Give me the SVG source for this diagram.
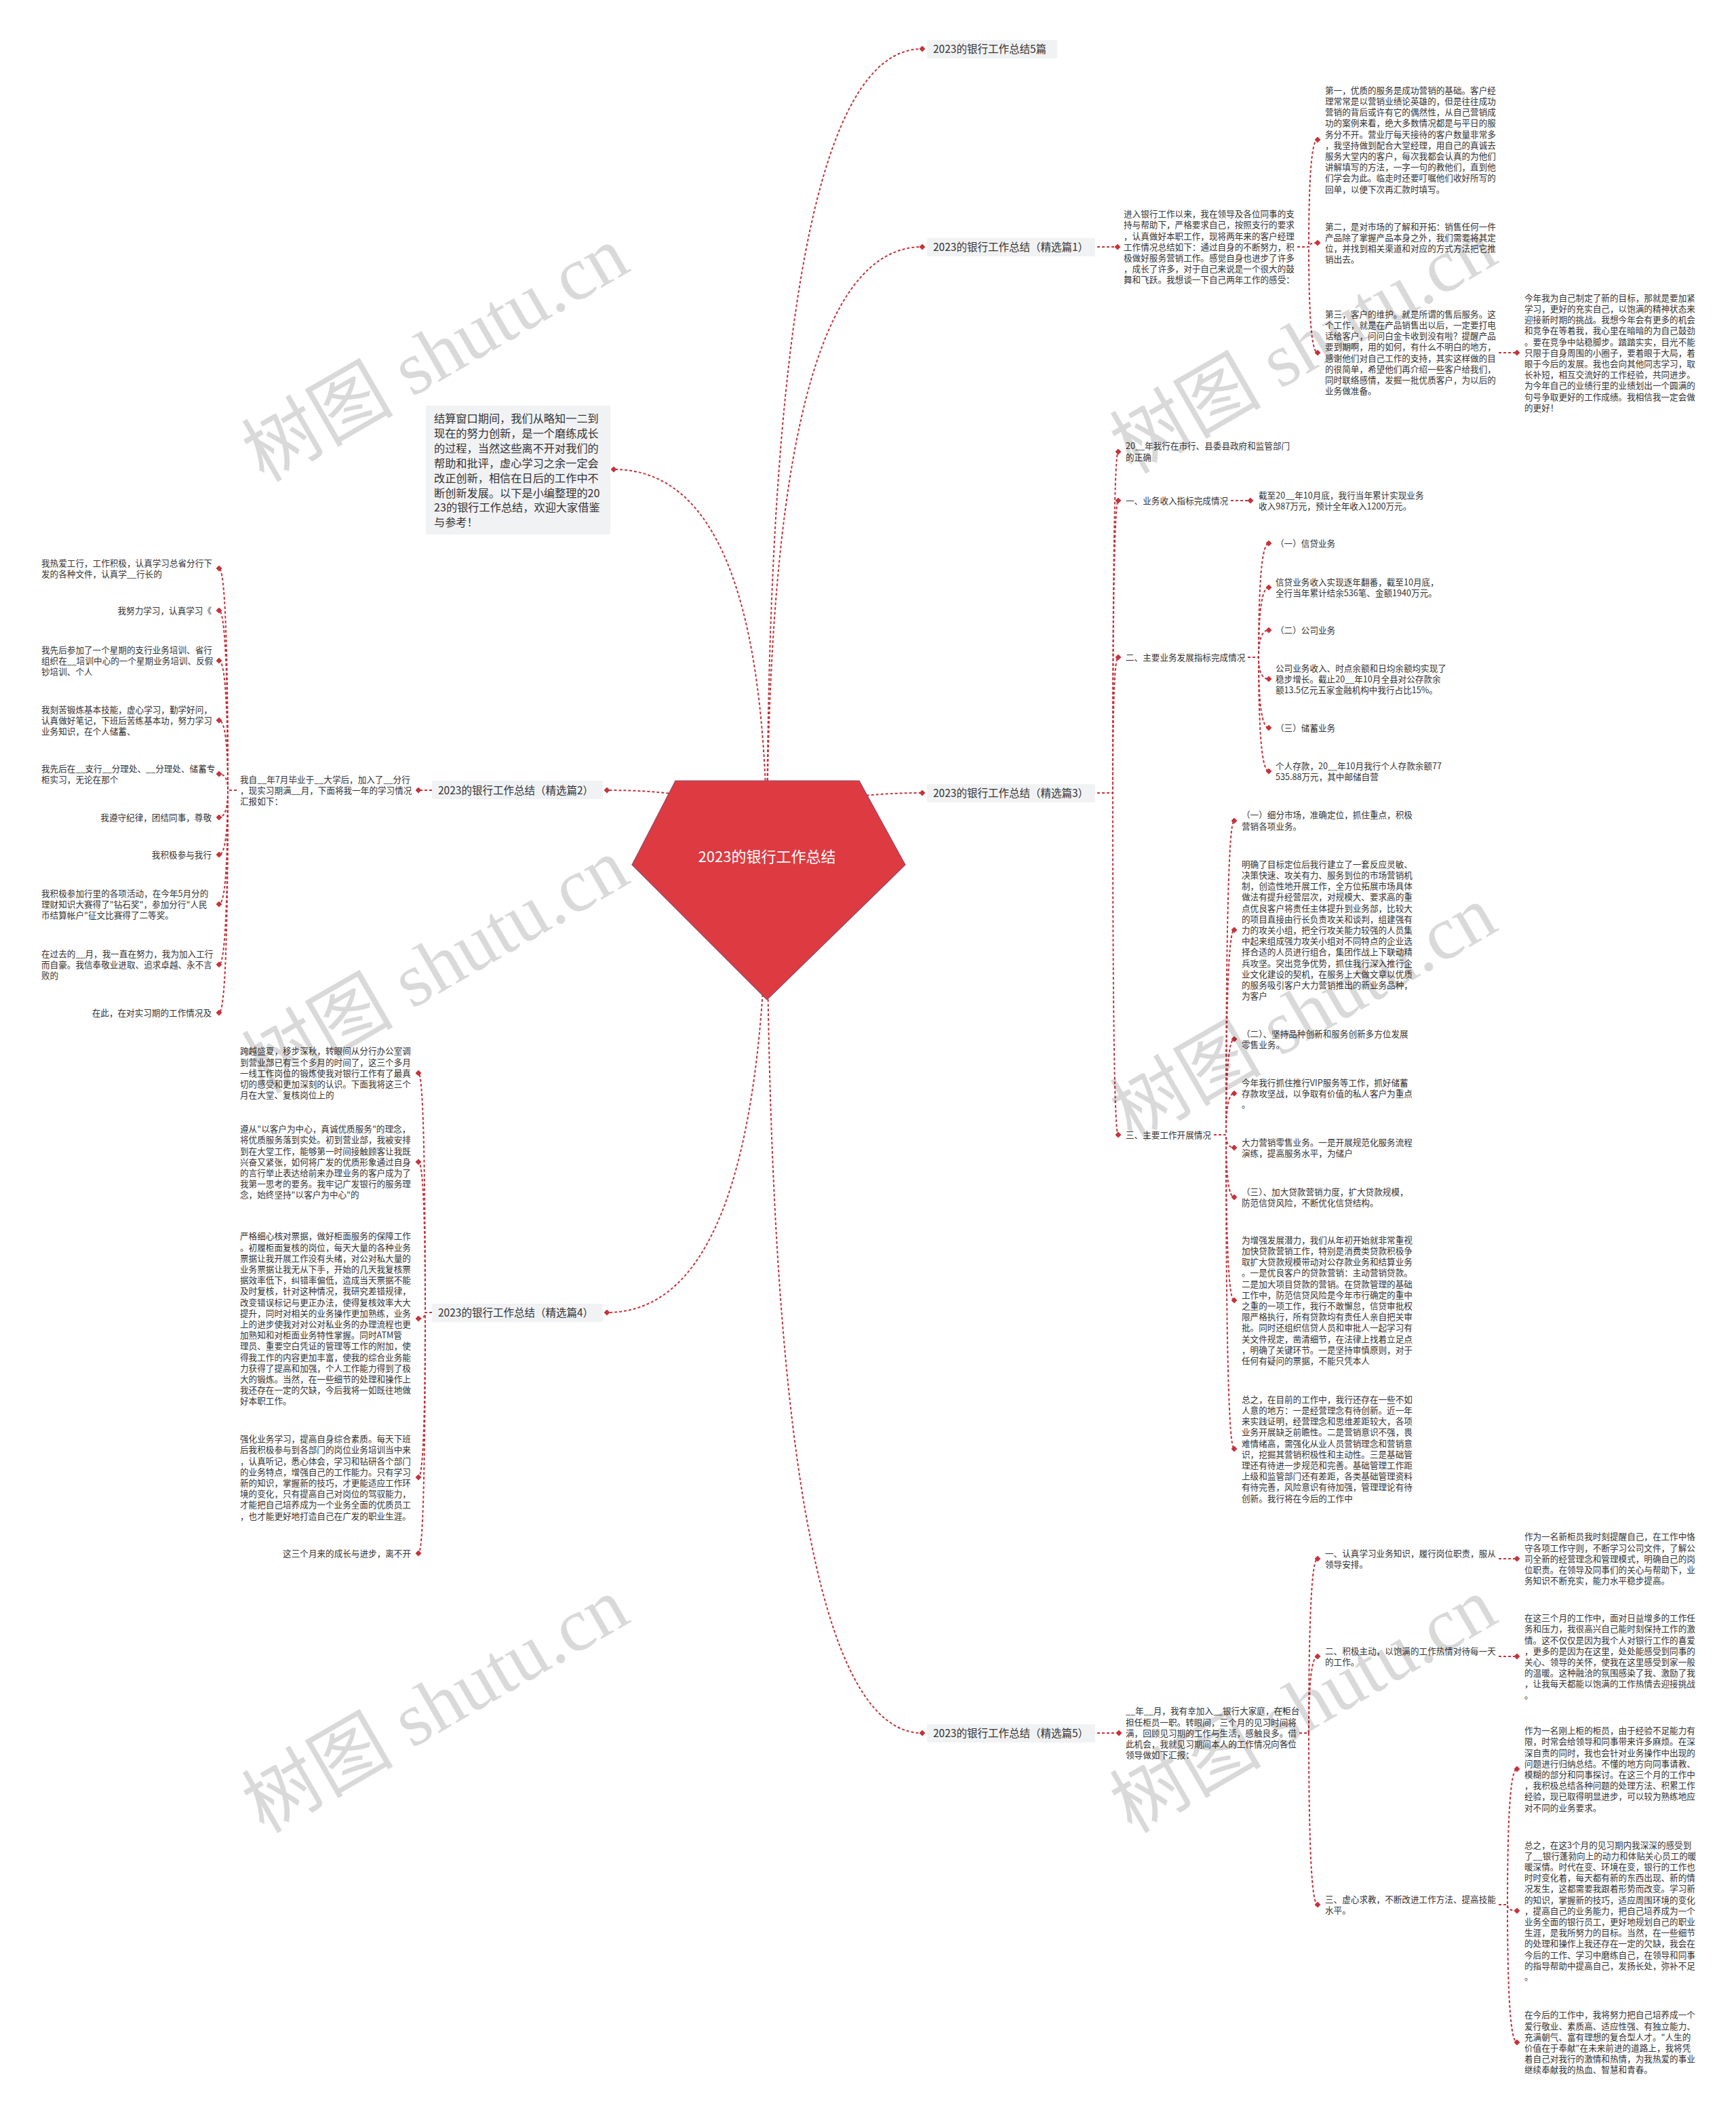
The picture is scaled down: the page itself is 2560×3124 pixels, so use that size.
<svg xmlns="http://www.w3.org/2000/svg" width="2560" height="3124" viewBox="0 0 2560 3124">
<defs>
<style>
.t{font-family:"Noto Sans CJK SC","Microsoft YaHei",sans-serif;font-size:12.6px;fill:#333}
.l1{font-family:"Noto Sans CJK SC","Microsoft YaHei",sans-serif;font-size:15.5px;fill:#333}
.bx{fill:#f1f2f4}
.c{stroke:#c4343c;stroke-width:2;stroke-dasharray:4 3;fill:none;marker-end:url(#dm)}
.wm{font-family:"Liberation Serif","Noto Sans CJK SC",serif;font-size:112px;fill:#000;fill-opacity:0.15}
</style>
<marker id="dm" viewBox="0 0 10 10" refX="5" refY="5" markerWidth="9" markerHeight="9" markerUnits="userSpaceOnUse"><path d="M5 0L10 5L5 10L0 5Z" fill="#c4343c"/></marker>
</defs>
<rect width="2560" height="3124" fill="#fff"/>
<g id="connectors">
<path class="c" d="M1131 1263Q1131 72 1360 72"/>
<path class="c" d="M1131 1263Q1131 364 1360 364"/>
<path class="c" d="M1131 1263Q1131 692 905 692"/>
<path class="c" d="M1131 1263Q1131 1169 1360 1169"/>
<path class="c" d="M1131 1263Q1131 1165 895 1165"/>
<path class="c" d="M1131 1263Q1131 1935 895 1935"/>
<path class="c" d="M1131 1263Q1131 2555 1360 2555"/>
<path class="c" d="M1618 364H1648"/>
<path class="c" d="M1913 364H1930Q1930 206 1943 206"/>
<path class="c" d="M1913 364H1930Q1930 358 1943 358"/>
<path class="c" d="M1913 364H1930Q1930 520 1943 520"/>
<path class="c" d="M2210 520H2237"/>
<path class="c" d="M1618 1169H1641Q1641 666 1649 666"/>
<path class="c" d="M1618 1169H1641Q1641 738 1649 738"/>
<path class="c" d="M1618 1169H1641Q1641 969 1649 969"/>
<path class="c" d="M1618 1169H1641Q1641 1673 1649 1673"/>
<path class="c" d="M1815 738H1844"/>
<path class="c" d="M1840 969H1856Q1856 801 1871 801"/>
<path class="c" d="M1840 969H1856Q1856 866 1871 866"/>
<path class="c" d="M1840 969H1856Q1856 929 1871 929"/>
<path class="c" d="M1840 969H1856Q1856 1001 1871 1001"/>
<path class="c" d="M1840 969H1856Q1856 1073 1871 1073"/>
<path class="c" d="M1840 969H1856Q1856 1137 1871 1137"/>
<path class="c" d="M1790 1673H1808Q1808 1210 1820 1210"/>
<path class="c" d="M1790 1673H1808Q1808 1371 1820 1371"/>
<path class="c" d="M1790 1673H1808Q1808 1532 1820 1532"/>
<path class="c" d="M1790 1673H1808Q1808 1612 1820 1612"/>
<path class="c" d="M1790 1673H1808Q1808 1692 1820 1692"/>
<path class="c" d="M1790 1673H1808Q1808 1765 1820 1765"/>
<path class="c" d="M1790 1673H1808Q1808 1917 1820 1917"/>
<path class="c" d="M1790 1673H1808Q1808 2136 1820 2136"/>
<path class="c" d="M637 1165H617"/>
<path class="c" d="M349 1165H336Q336 838 323 838"/>
<path class="c" d="M349 1165H336Q336 900 323 900"/>
<path class="c" d="M349 1165H336Q336 974 323 974"/>
<path class="c" d="M349 1165H336Q336 1062 323 1062"/>
<path class="c" d="M349 1165H336Q336 1141 323 1141"/>
<path class="c" d="M349 1165H336Q336 1205 323 1205"/>
<path class="c" d="M349 1165H336Q336 1260 323 1260"/>
<path class="c" d="M349 1165H336Q336 1333 323 1333"/>
<path class="c" d="M349 1165H336Q336 1422 323 1422"/>
<path class="c" d="M349 1165H336Q336 1493 323 1493"/>
<path class="c" d="M637 1935H627Q627 1582 617 1582"/>
<path class="c" d="M637 1935H627Q627 1713 617 1713"/>
<path class="c" d="M637 1935H627Q627 1944 617 1944"/>
<path class="c" d="M637 1935H627Q627 2178 617 2178"/>
<path class="c" d="M637 1935H627Q627 2290 617 2290"/>
<path class="c" d="M1618 2555H1650"/>
<path class="c" d="M1916 2555H1930Q1930 2298 1943 2298"/>
<path class="c" d="M1916 2555H1930Q1930 2442 1943 2442"/>
<path class="c" d="M1916 2555H1930Q1930 2808 1943 2808"/>
<path class="c" d="M2210 2298H2237"/>
<path class="c" d="M2210 2442H2237"/>
<path class="c" d="M2210 2808H2223Q2223 2608 2237 2608"/>
<path class="c" d="M2210 2808H2223Q2223 2817 2237 2817"/>
<path class="c" d="M2210 2808H2223Q2223 3011 2237 3011"/>
</g>
<g id="root">
<polygon points="996,1151 1267,1151 1335,1275 1131,1474 932,1275" fill="#dd3b41" stroke="#8e4a6a" stroke-width="1.2"/>
<text x="1131" y="1271" text-anchor="middle" font-family="Noto Sans CJK SC, sans-serif" font-size="22" fill="#fff">2023的银行工作总结</text>
</g>
<g id="n-5pian"><rect class="bx" x="1367" y="59" width="192" height="27" rx="2"/><text class="l1" x="1376" y="78">2023的银行工作总结5篇</text></g>
<g id="n-p1"><rect class="bx" x="1367" y="351" width="248" height="27" rx="2"/><text class="l1" x="1376" y="370">2023的银行工作总结（精选篇1）</text></g>
<g id="n-p3"><rect class="bx" x="1367" y="1156" width="248" height="27" rx="2"/><text class="l1" x="1376" y="1175">2023的银行工作总结（精选篇3）</text></g>
<g id="n-p5"><rect class="bx" x="1367" y="2542" width="248" height="27" rx="2"/><text class="l1" x="1376" y="2561">2023的银行工作总结（精选篇5）</text></g>
<g id="n-p2"><rect class="bx" x="637" y="1151" width="252" height="27" rx="2"/><text class="l1" x="646" y="1171">2023的银行工作总结（精选篇2）</text></g>
<g id="n-p4"><rect class="bx" x="637" y="1922" width="252" height="27" rx="2"/><text class="l1" x="646" y="1941">2023的银行工作总结（精选篇4）</text></g>
<g id="n-summary"><rect class="bx" x="628" y="598" width="272" height="190" rx="2"/>
<text x="640" y="623" font-family="Noto Sans CJK SC, sans-serif" font-size="16.2" fill="#333"><tspan x="640">结算窗口期间，我们从略知一二到</tspan><tspan x="640" dy="21.9">现在的努力创新，是一个磨练成长</tspan><tspan x="640" dy="21.9">的过程，当然这些离不开对我们的</tspan><tspan x="640" dy="21.9">帮助和批评，虚心学习之余一定会</tspan><tspan x="640" dy="21.9">改正创新，相信在日后的工作中不</tspan><tspan x="640" dy="21.9">断创新发展。以下是小编整理的20</tspan><tspan x="640" dy="21.9">23的银行工作总结，欢迎大家借鉴</tspan><tspan x="640" dy="21.9">与参考！</tspan></text></g>
<g id="p1-intro"><text class="t" x="1657" y="320.2"><tspan x="1657">进入银行工作以来，我在领导及各位同事的支</tspan><tspan x="1657" dy="16.2">持与帮助下，严格要求自己，按照支行的要求</tspan><tspan x="1657" dy="16.2">，认真做好本职工作，现将两年来的客户经理</tspan><tspan x="1657" dy="16.2">工作情况总结如下：通过自身的不断努力，积</tspan><tspan x="1657" dy="16.2">极做好服务营销工作。感觉自身也进步了许多</tspan><tspan x="1657" dy="16.2">，成长了许多，对于自己来说是一个很大的鼓</tspan><tspan x="1657" dy="16.2">舞和飞跃。我想谈一下自己两年工作的感受：</tspan></text></g>
<g id="p1-a"><text class="t" x="1954" y="137.8"><tspan x="1954">第一，优质的服务是成功营销的基础。客户经</tspan><tspan x="1954" dy="16.2">理常常是以营销业绩论英雄的，但是往往成功</tspan><tspan x="1954" dy="16.2">营销的背后或许有它的偶然性，从自己营销成</tspan><tspan x="1954" dy="16.2">功的案例来看，绝大多数情况都是与平日的服</tspan><tspan x="1954" dy="16.2">务分不开。营业厅每天接待的客户数量非常多</tspan><tspan x="1954" dy="16.2">，我坚持做到配合大堂经理，用自己的真诚去</tspan><tspan x="1954" dy="16.2">服务大堂内的客户，每次我都会认真的为他们</tspan><tspan x="1954" dy="16.2">讲解填写的方法，一字一句的教他们，直到他</tspan><tspan x="1954" dy="16.2">们学会为此。临走时还要叮嘱他们收好所写的</tspan><tspan x="1954" dy="16.2">回单，以便下次再汇款时填写。</tspan></text></g>
<g id="p1-b"><text class="t" x="1954" y="338.8"><tspan x="1954">第二，是对市场的了解和开拓：销售任何一件</tspan><tspan x="1954" dy="16.2">产品除了掌握产品本身之外，我们需要将其定</tspan><tspan x="1954" dy="16.2">位，并找到相关渠道和对应的方式方法把它推</tspan><tspan x="1954" dy="16.2">销出去。</tspan></text></g>
<g id="p1-c"><text class="t" x="1954" y="467.8"><tspan x="1954">第三，客户的维护。就是所谓的售后服务。这</tspan><tspan x="1954" dy="16.2">个工作，就是在产品销售出以后，一定要打电</tspan><tspan x="1954" dy="16.2">话给客户，问问白金卡收到没有啦？提醒产品</tspan><tspan x="1954" dy="16.2">要到期啊，用的如何，有什么不明白的地方，</tspan><tspan x="1954" dy="16.2">感谢他们对自己工作的支持，其实这样做的目</tspan><tspan x="1954" dy="16.2">的很简单，希望他们再介绍一些客户给我们，</tspan><tspan x="1954" dy="16.2">同时联络感情，发掘一批优质客户，为以后的</tspan><tspan x="1954" dy="16.2">业务做准备。</tspan></text></g>
<g id="p1-c1"><text class="t" x="2248" y="443.8"><tspan x="2248">今年我为自己制定了新的目标，那就是要加紧</tspan><tspan x="2248" dy="16.2">学习，更好的充实自己，以饱满的精神状态来</tspan><tspan x="2248" dy="16.2">迎接新时期的挑战。我想今年会有更多的机会</tspan><tspan x="2248" dy="16.2">和竞争在等着我，我心里在暗暗的为自己鼓劲</tspan><tspan x="2248" dy="16.2">。要在竞争中站稳脚步。踏踏实实，目光不能</tspan><tspan x="2248" dy="16.2">只限于自身周围的小圈子，要着眼于大局，着</tspan><tspan x="2248" dy="16.2">眼于今后的发展。我也会向其他同志学习，取</tspan><tspan x="2248" dy="16.2">长补短，相互交流好的工作经验，共同进步。</tspan><tspan x="2248" dy="16.2">为今年自己的业绩行里的业绩划出一个圆满的</tspan><tspan x="2248" dy="16.2">句号争取更好的工作成绩。我相信我一定会做</tspan><tspan x="2248" dy="16.2">的更好！</tspan></text></g>
<g id="p3-a"><text class="t" x="1660" y="662.3"><tspan x="1660">20__年我行在市行、县委县政府和监管部门</tspan><tspan x="1660" dy="16.2">的正确</tspan></text></g>
<g id="p3-b"><text class="t" x="1660" y="742.8">一、业务收入指标完成情况</text></g>
<g id="p3-b1"><text class="t" x="1856" y="734.8"><tspan x="1856">截至20__年10月底，我行当年累计实现业务</tspan><tspan x="1856" dy="16.2">收入987万元，预计全年收入1200万元。</tspan></text></g>
<g id="p3-c"><text class="t" x="1660" y="973.8">二、主要业务发展指标完成情况</text></g>
<g id="p3-c1"><text class="t" x="1881" y="805.8">（一）信贷业务</text></g>
<g id="p3-c2"><text class="t" x="1881" y="862.8"><tspan x="1881">信贷业务收入实现逐年翻番，截至10月底，</tspan><tspan x="1881" dy="16.2">全行当年累计结余536笔、金额1940万元。</tspan></text></g>
<g id="p3-c3"><text class="t" x="1881" y="933.8">（二）公司业务</text></g>
<g id="p3-c4"><text class="t" x="1881" y="989.8"><tspan x="1881">公司业务收入、时点余额和日均余额均实现了</tspan><tspan x="1881" dy="16.2">稳步增长。截止20__年10月全县对公存款余</tspan><tspan x="1881" dy="16.2">额13.5亿元五家金融机构中我行占比15%。</tspan></text></g>
<g id="p3-c5"><text class="t" x="1881" y="1077.8">（三）储蓄业务</text></g>
<g id="p3-c6"><text class="t" x="1881" y="1133.8"><tspan x="1881">个人存款，20__年10月我行个人存款余额77</tspan><tspan x="1881" dy="16.2">535.88万元，其中邮储自营</tspan></text></g>
<g id="p3-d"><text class="t" x="1660" y="1677.8">三、主要工作开展情况</text></g>
<g id="p3-d1"><text class="t" x="1831" y="1206.3"><tspan x="1831">（一）细分市场，准确定位，抓住重点，积极</tspan><tspan x="1831" dy="16.2">营销各项业务。</tspan></text></g>
<g id="p3-d2"><text class="t" x="1831" y="1278.8"><tspan x="1831">明确了目标定位后我行建立了一套反应灵敏、</tspan><tspan x="1831" dy="16.2">决策快速、攻关有力、服务到位的市场营销机</tspan><tspan x="1831" dy="16.2">制，创造性地开展工作，全方位拓展市场具体</tspan><tspan x="1831" dy="16.2">做法有提升经营层次，对规模大、要求高的重</tspan><tspan x="1831" dy="16.2">点优良客户将责任主体提升到业务部，比较大</tspan><tspan x="1831" dy="16.2">的项目直接由行长负责攻关和谈判，组建强有</tspan><tspan x="1831" dy="16.2">力的攻关小组，把全行攻关能力较强的人员集</tspan><tspan x="1831" dy="16.2">中起来组成强力攻关小组对不同特点的企业选</tspan><tspan x="1831" dy="16.2">择合适的人员进行组合，集团作战上下联动精</tspan><tspan x="1831" dy="16.2">兵攻坚。突出竞争优势，抓住我行深入推行企</tspan><tspan x="1831" dy="16.2">业文化建设的契机，在服务上大做文章以优质</tspan><tspan x="1831" dy="16.2">的服务吸引客户大力营销推出的新业务品种，</tspan><tspan x="1831" dy="16.2">为客户</tspan></text></g>
<g id="p3-d3"><text class="t" x="1831" y="1528.8"><tspan x="1831">（二）、坚持品种创新和服务创新多方位发展</tspan><tspan x="1831" dy="16.2">零售业务。</tspan></text></g>
<g id="p3-d4"><text class="t" x="1831" y="1600.8"><tspan x="1831">今年我行抓住推行VIP服务等工作，抓好储蓄</tspan><tspan x="1831" dy="16.2">存款攻坚战，以争取有价值的私人客户为重点</tspan><tspan x="1831" dy="16.2">。</tspan></text></g>
<g id="p3-d5"><text class="t" x="1831" y="1688.8"><tspan x="1831">大力营销零售业务。一是开展规范化服务流程</tspan><tspan x="1831" dy="16.2">演练，提高服务水平，为储户</tspan></text></g>
<g id="p3-d6"><text class="t" x="1831" y="1761.8"><tspan x="1831">（三）、加大贷款营销力度，扩大贷款规模，</tspan><tspan x="1831" dy="16.2">防范信贷风险，不断优化信贷结构。</tspan></text></g>
<g id="p3-d7"><text class="t" x="1831" y="1832.8"><tspan x="1831">为增强发展潜力，我们从年初开始就非常重视</tspan><tspan x="1831" dy="16.2">加快贷款营销工作，特别是消费类贷款积极争</tspan><tspan x="1831" dy="16.2">取扩大贷款规模带动对公存款业务和结算业务</tspan><tspan x="1831" dy="16.2">。一是优良客户的贷款营销：主动营销贷款。</tspan><tspan x="1831" dy="16.2">二是加大项目贷款的营销。在贷款管理的基础</tspan><tspan x="1831" dy="16.2">工作中，防范信贷风险是今年市行确定的重中</tspan><tspan x="1831" dy="16.2">之重的一项工作，我行不敢懈怠，信贷审批权</tspan><tspan x="1831" dy="16.2">限严格执行，所有贷款均有责任人亲自把关审</tspan><tspan x="1831" dy="16.2">批。同时还组织信贷人员和审批人一起学习有</tspan><tspan x="1831" dy="16.2">关文件规定，凿清细节，在法律上找着立足点</tspan><tspan x="1831" dy="16.2">，明确了关键环节。一是坚持审慎原则，对于</tspan><tspan x="1831" dy="16.2">任何有疑问的票据，不能只凭本人</tspan></text></g>
<g id="p3-d8"><text class="t" x="1831" y="2067.8"><tspan x="1831">总之，在目前的工作中，我行还存在一些不如</tspan><tspan x="1831" dy="16.2">人意的地方：一是经营理念有待创新。近一年</tspan><tspan x="1831" dy="16.2">来实践证明，经营理念和思维差距较大，各项</tspan><tspan x="1831" dy="16.2">业务开展缺乏前瞻性。二是营销意识不强，畏</tspan><tspan x="1831" dy="16.2">难情绪高，需强化从业人员营销理念和营销意</tspan><tspan x="1831" dy="16.2">识，挖掘其营销积极性和主动性。三是基础管</tspan><tspan x="1831" dy="16.2">理还有待进一步规范和完善。基础管理工作距</tspan><tspan x="1831" dy="16.2">上级和监管部门还有差距，各类基础管理资料</tspan><tspan x="1831" dy="16.2">有待完善，风险意识有待加强，管理理论有待</tspan><tspan x="1831" dy="16.2">创新。我行将在今后的工作中</tspan></text></g>
<g id="p2-intro"><text class="t" x="354" y="1153.8"><tspan x="354">我自__年7月毕业于__大学后，加入了__分行</tspan><tspan x="354" dy="16.2">，现实习期满__月，下面将我一年的学习情况</tspan><tspan x="354" dy="16.2">汇报如下：</tspan></text></g>
<g id="p2-1"><text class="t" x="61" y="834.8"><tspan x="61">我热爱工行，工作积极，认真学习总省分行下</tspan><tspan x="61" dy="16.2">发的各种文件，认真学__行长的</tspan></text></g>
<g id="p2-2"><text class="t" x="312" y="904.8" text-anchor="end">我努力学习，认真学习《</text></g>
<g id="p2-3"><text class="t" x="61" y="962.6"><tspan x="61">我先后参加了一个星期的支行业务培训、省行</tspan><tspan x="61" dy="16.2">组织在__培训中心的一个星期业务培训、反假</tspan><tspan x="61" dy="16.2">钞培训、个人</tspan></text></g>
<g id="p2-4"><text class="t" x="61" y="1050.6"><tspan x="61">我刻苦锻炼基本技能，虚心学习，勤学好问，</tspan><tspan x="61" dy="16.2">认真做好笔记，下班后苦练基本功，努力学习</tspan><tspan x="61" dy="16.2">业务知识，在个人储蓄、</tspan></text></g>
<g id="p2-5"><text class="t" x="61" y="1137.8"><tspan x="61">我先后在__支行__分理处、__分理处、储蓄专</tspan><tspan x="61" dy="16.2">柜实习，无论在那个</tspan></text></g>
<g id="p2-6"><text class="t" x="312" y="1209.8" text-anchor="end">我遵守纪律，团结同事，尊敬</text></g>
<g id="p2-7"><text class="t" x="312" y="1264.8" text-anchor="end">我积极参与我行</text></g>
<g id="p2-8"><text class="t" x="61" y="1321.8"><tspan x="61">我积极参加行里的各项活动，在今年5月分的</tspan><tspan x="61" dy="16.2">理财知识大赛得了"钻石奖"，参加分行"人民</tspan><tspan x="61" dy="16.2">币结算帐户"征文比赛得了二等奖。</tspan></text></g>
<g id="p2-9"><text class="t" x="61" y="1410.8"><tspan x="61">在过去的__月，我一直在努力，我为加入工行</tspan><tspan x="61" dy="16.2">而自豪。我信奉敬业进取、追求卓越、永不言</tspan><tspan x="61" dy="16.2">败的</tspan></text></g>
<g id="p2-10"><text class="t" x="312" y="1497.8" text-anchor="end">在此，在对实习期的工作情况及</text></g>
<g id="p4-1"><text class="t" x="354" y="1554.4"><tspan x="354">跨越盛夏，移步深秋，转眼间从分行办公室调</tspan><tspan x="354" dy="16.2">到营业部已有三个多月的时间了，这三个多月</tspan><tspan x="354" dy="16.2">一线工作岗位的锻炼使我对银行工作有了最真</tspan><tspan x="354" dy="16.2">切的感受和更加深刻的认识。下面我将这三个</tspan><tspan x="354" dy="16.2">月在大堂、复核岗位上的</tspan></text></g>
<g id="p4-2"><text class="t" x="354" y="1669.2"><tspan x="354">遵从"以客户为中心，真诚优质服务"的理念，</tspan><tspan x="354" dy="16.2">将优质服务落到实处。初到营业部，我被安排</tspan><tspan x="354" dy="16.2">到在大堂工作，能够第一时间接触顾客让我既</tspan><tspan x="354" dy="16.2">兴奋又紧张，如何将广发的优质形象通过自身</tspan><tspan x="354" dy="16.2">的言行举止表达给前来办理业务的客户成为了</tspan><tspan x="354" dy="16.2">我第一思考的要务。我牢记广发银行的服务理</tspan><tspan x="354" dy="16.2">念，始终坚持"以客户为中心"的</tspan></text></g>
<g id="p4-3"><text class="t" x="354" y="1827.3"><tspan x="354">严格细心核对票据，做好柜面服务的保障工作</tspan><tspan x="354" dy="16.2">。初履柜面复核的岗位，每天大量的各种业务</tspan><tspan x="354" dy="16.2">票据让我开展工作没有头绪，对公对私大量的</tspan><tspan x="354" dy="16.2">业务票据让我无从下手，开始的几天我复核票</tspan><tspan x="354" dy="16.2">据效率低下，纠错率偏低，造成当天票据不能</tspan><tspan x="354" dy="16.2">及时复核，针对这种情况，我研究差错规律，</tspan><tspan x="354" dy="16.2">改变错误标记与更正办法，使得复核效率大大</tspan><tspan x="354" dy="16.2">提升，同时对相关的业务操作更加熟练，业务</tspan><tspan x="354" dy="16.2">上的进步使我对对公对私业务的办理流程也更</tspan><tspan x="354" dy="16.2">加熟知和对柜面业务特性掌握。同时ATM管</tspan><tspan x="354" dy="16.2">理员、重要空白凭证的管理等工作的附加，使</tspan><tspan x="354" dy="16.2">得我工作的内容更加丰富，使我的综合业务能</tspan><tspan x="354" dy="16.2">力获得了提高和加强，个人工作能力得到了极</tspan><tspan x="354" dy="16.2">大的锻炼。当然，在一些细节的处理和操作上</tspan><tspan x="354" dy="16.2">我还存在一定的欠缺，今后我将一如既往地做</tspan><tspan x="354" dy="16.2">好本职工作。</tspan></text></g>
<g id="p4-4"><text class="t" x="354" y="2126.1"><tspan x="354">强化业务学习，提高自身综合素质。每天下班</tspan><tspan x="354" dy="16.2">后我积极参与到各部门的岗位业务培训当中来</tspan><tspan x="354" dy="16.2">，认真听记，悉心体会，学习和钻研各个部门</tspan><tspan x="354" dy="16.2">的业务特点，增强自己的工作能力。只有学习</tspan><tspan x="354" dy="16.2">新的知识，掌握新的技巧，才更能适应工作环</tspan><tspan x="354" dy="16.2">境的变化，只有提高自己对岗位的驾驭能力，</tspan><tspan x="354" dy="16.2">才能把自己培养成为一个业务全面的优质员工</tspan><tspan x="354" dy="16.2">，也才能更好地打造自己在广发的职业生涯。</tspan></text></g>
<g id="p4-5"><text class="t" x="606" y="2294.8" text-anchor="end">这三个月来的成长与进步，离不开</text></g>
<g id="p5-intro"><text class="t" x="1660" y="2527.4"><tspan x="1660">__年__月，我有幸加入__银行大家庭，在柜台</tspan><tspan x="1660" dy="16.2">担任柜员一职。转眼间，三个月的见习时间将</tspan><tspan x="1660" dy="16.2">满，回顾见习期的工作与生活，感触良多。借</tspan><tspan x="1660" dy="16.2">此机会，我就见习期间本人的工作情况向各位</tspan><tspan x="1660" dy="16.2">领导做如下汇报：</tspan></text></g>
<g id="p5-1"><text class="t" x="1954" y="2294.8"><tspan x="1954">一、认真学习业务知识，履行岗位职责，服从</tspan><tspan x="1954" dy="16.2">领导安排。</tspan></text></g>
<g id="p5-1a"><text class="t" x="2248" y="2270.4"><tspan x="2248">作为一名新柜员我时刻提醒自己，在工作中恪</tspan><tspan x="2248" dy="16.2">守各项工作守则，不断学习公司文件，了解公</tspan><tspan x="2248" dy="16.2">司全新的经营理念和管理模式，明确自己的岗</tspan><tspan x="2248" dy="16.2">位职责。在领导及同事们的关心与帮助下，业</tspan><tspan x="2248" dy="16.2">务知识不断充实，能力水平稳步提高。</tspan></text></g>
<g id="p5-2"><text class="t" x="1954" y="2438.8"><tspan x="1954">二、积极主动，以饱满的工作热情对待每一天</tspan><tspan x="1954" dy="16.2">的工作。</tspan></text></g>
<g id="p5-2a"><text class="t" x="2248" y="2390.1"><tspan x="2248">在这三个月的工作中，面对日益增多的工作任</tspan><tspan x="2248" dy="16.2">务和压力，我很高兴自己能时刻保持工作的激</tspan><tspan x="2248" dy="16.2">情。这不仅仅是因为我个人对银行工作的喜爱</tspan><tspan x="2248" dy="16.2">，更多的是因为在这里，处处能感受到同事的</tspan><tspan x="2248" dy="16.2">关心、领导的关怀，使我在这里感受到家一般</tspan><tspan x="2248" dy="16.2">的温暖。这种融洽的氛围感染了我、激励了我</tspan><tspan x="2248" dy="16.2">，让我每天都能以饱满的工作热情去迎接挑战</tspan><tspan x="2248" dy="16.2">。</tspan></text></g>
<g id="p5-3"><text class="t" x="1954" y="2804.8"><tspan x="1954">三、虚心求教，不断改进工作方法、提高技能</tspan><tspan x="1954" dy="16.2">水平。</tspan></text></g>
<g id="p5-3a"><text class="t" x="2248" y="2556.1"><tspan x="2248">作为一名刚上柜的柜员，由于经验不足能力有</tspan><tspan x="2248" dy="16.2">限，时常会给领导和同事带来许多麻烦。在深</tspan><tspan x="2248" dy="16.2">深自责的同时，我也会针对业务操作中出现的</tspan><tspan x="2248" dy="16.2">问题进行归纳总结。不懂的地方向同事请教、</tspan><tspan x="2248" dy="16.2">模糊的部分和同事探讨。在这三个月的工作中</tspan><tspan x="2248" dy="16.2">，我积极总结各种问题的处理方法、积累工作</tspan><tspan x="2248" dy="16.2">经验，现已取得明显进步，可以较为熟练地应</tspan><tspan x="2248" dy="16.2">对不同的业务要求。</tspan></text></g>
<g id="p5-3b"><text class="t" x="2248" y="2724.6"><tspan x="2248">总之，在这3个月的见习期内我深深的感受到</tspan><tspan x="2248" dy="16.2">了__银行蓬勃向上的动力和体贴关心员工的暖</tspan><tspan x="2248" dy="16.2">暖深情。时代在变、环境在变，银行的工作也</tspan><tspan x="2248" dy="16.2">时时变化着，每天都有新的东西出现、新的情</tspan><tspan x="2248" dy="16.2">况发生，这都需要我跟着形势而改变。学习新</tspan><tspan x="2248" dy="16.2">的知识，掌握新的技巧，适应周围环境的变化</tspan><tspan x="2248" dy="16.2">，提高自己的业务能力，把自己培养成为一个</tspan><tspan x="2248" dy="16.2">业务全面的银行员工，更好地规划自己的职业</tspan><tspan x="2248" dy="16.2">生涯，是我所努力的目标。当然，在一些细节</tspan><tspan x="2248" dy="16.2">的处理和操作上我还存在一定的欠缺，我会在</tspan><tspan x="2248" dy="16.2">今后的工作、学习中磨练自己，在领导和同事</tspan><tspan x="2248" dy="16.2">的指导帮助中提高自己，发扬长处，弥补不足</tspan><tspan x="2248" dy="16.2">。</tspan></text></g>
<g id="p5-3c"><text class="t" x="2248" y="2975.3"><tspan x="2248">在今后的工作中，我将努力把自己培养成一个</tspan><tspan x="2248" dy="16.2">爱行敬业、素质高、适应性强、有独立能力、</tspan><tspan x="2248" dy="16.2">充满朝气、富有理想的复合型人才。"人生的</tspan><tspan x="2248" dy="16.2">价值在于奉献"在未来前进的道路上，我将凭</tspan><tspan x="2248" dy="16.2">着自己对我行的激情和热情，为我热爱的事业</tspan><tspan x="2248" dy="16.2">继续奉献我的热血、智慧和青春。</tspan></text></g>
<g id="watermarks">
<text class="wm" text-anchor="middle" transform="translate(642 522) rotate(-30)" y="38">树图 shutu.cn</text>
<text class="wm" text-anchor="middle" transform="translate(1922 510) rotate(-30)" y="38">树图 shutu.cn</text>
<text class="wm" text-anchor="middle" transform="translate(642 1424) rotate(-30)" y="38">树图 shutu.cn</text>
<text class="wm" text-anchor="middle" transform="translate(1922 1494) rotate(-30)" y="38">树图 shutu.cn</text>
<text class="wm" text-anchor="middle" transform="translate(642 2514) rotate(-30)" y="38">树图 shutu.cn</text>
<text class="wm" text-anchor="middle" transform="translate(1922 2514) rotate(-30)" y="38">树图 shutu.cn</text>
</g>
</svg>
